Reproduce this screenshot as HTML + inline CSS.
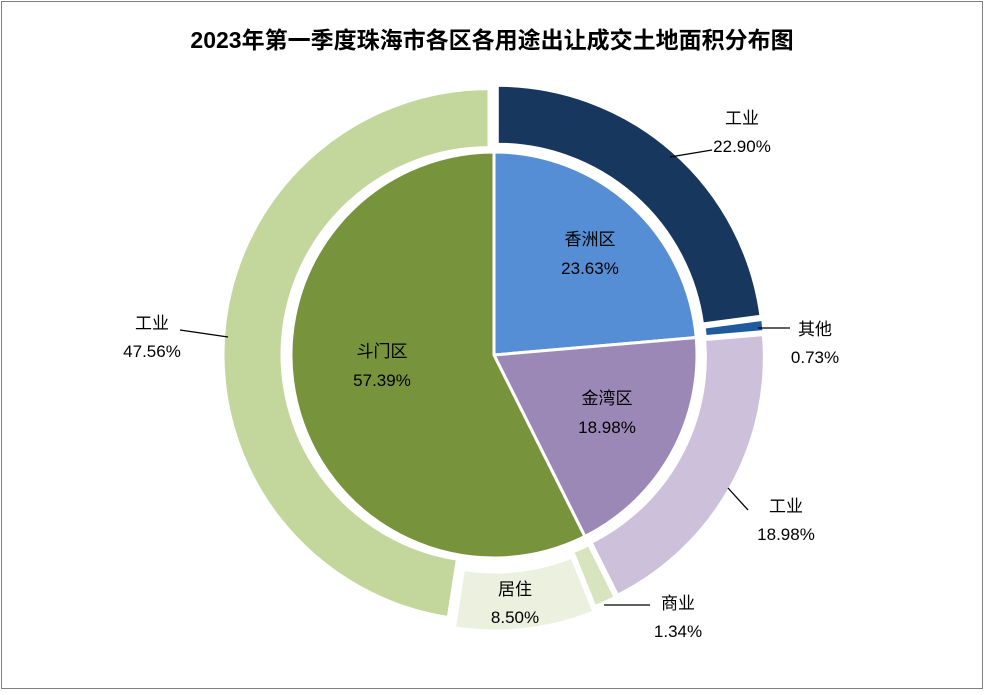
<!DOCTYPE html>
<html><head><meta charset="utf-8"><style>
body{margin:0;background:#fff;}
#wrap{position:relative;width:984px;height:690px;}
svg text{font-family:"Liberation Sans","Noto Sans CJK SC",sans-serif;}
</style></head><body>
<div id="wrap">
<svg id="chart" width="984" height="690">
<rect x="1.5" y="1.5" width="981" height="687" fill="#fff" stroke="#7f7f7f" stroke-width="1"/>
<text x="492" y="48" text-anchor="middle" font-size="23" font-weight="bold" fill="#000">2023年第一季度珠海市各区各用途出让成交土地面积分布图</text>
</svg>
</div>
<script>
const innerLabels=["香洲区","金湾区","斗门区"];
const innerValues=[23.63,18.98,57.39];
const innerColors=["#558ED5","#9B88B6","#77933C"];
const outerLabels=["工业","其他","工业","商业","居住","工业"];
const outerValues=[22.90,0.73,18.98,1.34,8.50,47.56];
const outerColors=["#17375E","#1F5A9E","#CCC0DA","#D7E4BD","#EBF1DE","#C3D69B"];
const outerLabelPos=[[742,127],[815,338],[786,515],[678,612],[515,598],[152,332]];
const outerLeaders=[[[670,157],[712,150]],[[758,328],[790,328]],[[728,488],[748,510]],[[604,605],[650,605]],null,[[228,337],[180,330]]];
const innerLabelPos=[[590,261],[607,420],[382,373]];
const svg=document.getElementById('chart');
const NS='http://www.w3.org/2000/svg';
const cx=494,cy=355;
function pt(r,a){return [cx+r*Math.sin(a),cy-r*Math.cos(a)];}
function arc(r0,r1,a0,a1,dx,dy){
  const large=(a1-a0)>Math.PI?1:0;
  const p1=pt(r1,a0),p2=pt(r1,a1);
  let d;
  if(r0===0){d=`M${cx+dx},${cy+dy}L${p1[0]+dx},${p1[1]+dy}A${r1},${r1} 0 ${large} 1 ${p2[0]+dx},${p2[1]+dy}Z`;}
  else{const q1=pt(r0,a1),q2=pt(r0,a0);
  d=`M${p1[0]+dx},${p1[1]+dy}A${r1},${r1} 0 ${large} 1 ${p2[0]+dx},${p2[1]+dy}L${q1[0]+dx},${q1[1]+dy}A${r0},${r0} 0 ${large} 0 ${q2[0]+dx},${q2[1]+dy}Z`;}
  return d;
}
function txt(x,y,s,name){const t=document.createElementNS(NS,'text');t.setAttribute('x',x);t.setAttribute('y',y);t.setAttribute('text-anchor','middle');t.setAttribute('font-size','17');t.setAttribute('fill','#000');t.textContent=s;


svg.appendChild(t);}
const outerTotal=outerValues.reduce((a,b)=>a+b,0);
let a=0;
outerValues.forEach((v,i)=>{
  const a1=a+v/outerTotal*2*Math.PI;const mid=(a+a1)/2;const off=i===4?10:5;
  const p=document.createElementNS(NS,'path');
  p.setAttribute('d',arc(207,266,a,a1,off*Math.sin(mid),-off*Math.cos(mid)));
  p.setAttribute('fill',outerColors[i]);p.setAttribute('stroke','#fff');p.setAttribute('stroke-width','3');
  
  
  svg.appendChild(p);a=a1;
});
const innerTotal=innerValues.reduce((a,b)=>a+b,0);
a=0;
innerValues.forEach((v,i)=>{
  const a1=a+v/innerTotal*2*Math.PI;
  const p=document.createElementNS(NS,'path');
  p.setAttribute('d',arc(0,203,a,a1,0,0));
  p.setAttribute('fill',innerColors[i]);p.setAttribute('stroke','#fff');p.setAttribute('stroke-width','3');
  
  
  svg.appendChild(p);a=a1;
  txt(innerLabelPos[i][0],innerLabelPos[i][1]-16,innerLabels[i],'inner-label-name-'+i);
  txt(innerLabelPos[i][0],innerLabelPos[i][1]+13,innerValues[i].toFixed(2)+'%','inner-label-value-'+i);
});
outerValues.forEach((v,i)=>{
  const [x,y]=outerLabelPos[i];
  txt(x,y-3,outerLabels[i],'outer-label-name-'+i);
  txt(x,y+25,v.toFixed(2)+'%','outer-label-value-'+i);
  if(outerLeaders[i]){const l=document.createElementNS(NS,'polyline');
  l.setAttribute('points',outerLeaders[i].map(p=>p.join(',')).join(' '));
  l.setAttribute('fill','none');l.setAttribute('stroke','#000');l.setAttribute('stroke-width','1.3');
  
  
  svg.appendChild(l);}
});
</script>
</body></html>
